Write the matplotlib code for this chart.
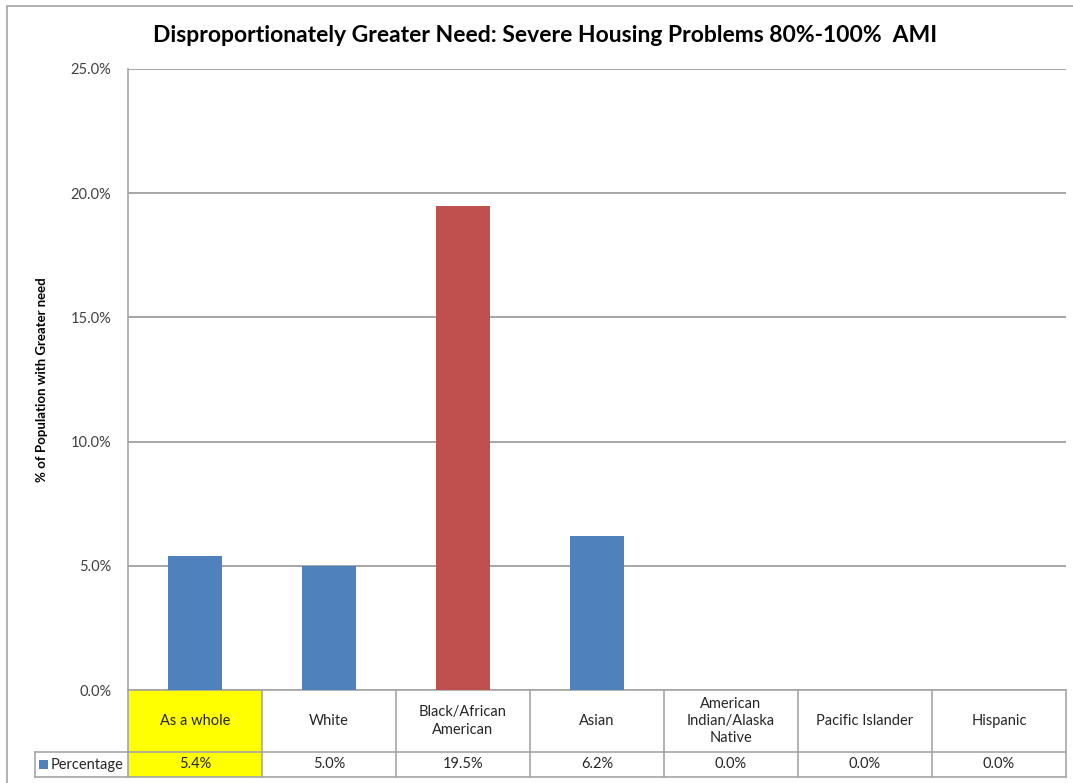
import matplotlib.pyplot as plt
from matplotlib.transforms import blended_transform_factory
from matplotlib.patches import Rectangle

categories = ["As a whole", "White", "Black/African\nAmerican", "Asian",
              "American\nIndian/Alaska\nNative", "Pacific Islander", "Hispanic"]
values = [5.4, 5.0, 19.5, 6.2, 0.0, 0.0, 0.0]
bar_colors = ["#4F81BD", "#4F81BD", "#C0504D", "#4F81BD", "#4F81BD", "#4F81BD", "#4F81BD"]
yticks = [0, 5, 10, 15, 20, 25]
series_name = "Percentage"

plt.rcParams['font.family'] = ['Lato', 'DejaVu Sans']

W, H = 1073, 783
fig = plt.figure(figsize=(W / 100, H / 100), dpi=100)
ax = fig.add_axes([128 / W, (H - 690) / H, (1066 - 128) / W, (690 - 69) / H])

x = range(len(categories))
ax.bar(x, values, width=0.4, color=bar_colors, zorder=3)
ax.set_xlim(-0.5, len(categories) - 0.5)
ax.set_ylim(0, 25)
ax.set_yticks(yticks)
ax.set_yticklabels([f"{v:.1f}%" for v in yticks], fontsize=10.5, color="#404040")
ax.set_xticks([])
ax.tick_params(axis='y', length=0, pad=12)
ax.grid(axis='y', color="#a6a6a6", linewidth=1.4, zorder=0)
for s in ['top', 'right', 'bottom']:
    ax.spines[s].set_visible(False)
ax.spines['left'].set_color("#a6a6a6")
ax.spines['left'].set_linewidth(1.2)
ax.set_ylabel("% of Population with Greater need", fontsize=9.5, fontweight='bold', labelpad=16)

fig.text(545 / W, (H - 36) / H, "Disproportionately Greater Need: Severe Housing Problems 80%-100%  AMI",
         ha='center', va='center', fontsize=16.5, fontweight='bold')

# data table below the axis
tr = blended_transform_factory(ax.transData, ax.transAxes)
ph = 690 - 69
r1 = -62 / ph
r2 = -87 / ph
line_c = "#a6a6a6"
n = len(categories)
# highlight first column
ax.add_patch(Rectangle((-0.5, r2), 1, -r2, transform=tr, facecolor="#FFFF00",
                       edgecolor='none', clip_on=False, zorder=1))
leg_left = -0.5 - 93 / 134.0
for yy in [0, r1, r2]:
    x0 = -0.5 if yy == 0 else leg_left
    ax.plot([x0, n - 0.5], [yy, yy], transform=tr, color=line_c, lw=1.2, clip_on=False)
for i in range(n + 1):
    ax.plot([i - 0.5, i - 0.5], [0, r2], transform=tr, color=line_c, lw=1.2, clip_on=False)
ax.plot([leg_left, leg_left], [r1, r2], transform=tr, color=line_c, lw=1.2, clip_on=False)
for i, (c, v) in enumerate(zip(categories, values)):
    ax.text(i, r1 / 2, c, transform=tr, ha='center', va='center', fontsize=10.5,
            color="#262626", linespacing=1.3)
    ax.text(i, (r1 + r2) / 2, f"{v:.1f}%", transform=tr, ha='center', va='center',
            fontsize=10.5, color="#262626")
ax.add_patch(Rectangle((leg_left + 0.03, (r1 + r2) / 2 - 0.008), 0.07, 0.016, transform=tr,
                       facecolor="#4F81BD", edgecolor='none', clip_on=False))
ax.text(leg_left + 0.12, (r1 + r2) / 2, series_name, transform=tr, ha='left', va='center',
        fontsize=10.5, color="#262626")

# outer chart border (left and top only visible)
fig.add_artist(Rectangle((7 / W, -0.01), 1.05, (H - 6) / H + 0.01, transform=fig.transFigure,
                         fill=False, edgecolor="#a6a6a6", lw=1.2))

fig.savefig("out.png", dpi=100)
